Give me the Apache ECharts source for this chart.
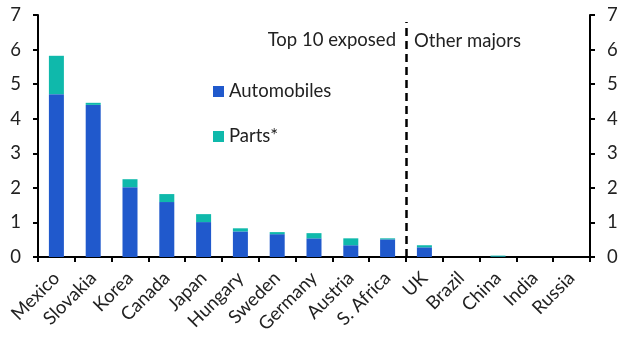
<!DOCTYPE html>
<html><head><meta charset="utf-8">
<script src="https://cdn.jsdelivr.net/npm/echarts@6/dist/echarts.min.js"></script>
<style>html,body{margin:0;padding:0;background:#fff}#c{width:630px;height:355px}</style>
</head><body><div id="c"></div>
<script>
const categories = ["Mexico","Slovakia","Korea","Canada","Japan","Hungary","Sweden","Germany","Austria","S. Africa","UK","Brazil","China","India","Russia"];
const automobiles = [4.71,4.40,2.02,1.59,1.01,0.74,0.66,0.54,0.34,0.51,0.28,0,0.01,0,0];
const parts = [1.11,0.06,0.23,0.23,0.23,0.09,0.06,0.15,0.20,0.03,0.06,0,0.03,0,0];
const yTicks = [0,1,2,3,4,5,6,7];
const dividerPosition = 10;

const font = "Lato, 'Open Sans', sans-serif";
const fs = 18.5;
const chart = echarts.init(document.getElementById('c'));
const yAxisCommon = {
  type:'value', min:yTicks[0], max:yTicks[yTicks.length-1], interval:1,
  axisLine:{show:true,lineStyle:{color:'#000',width:2}},
  axisTick:{show:true,length:5,lineStyle:{color:'#000',width:2}},
  axisLabel:{color:'#222',fontSize:fs,fontFamily:font,margin:17},
  splitLine:{show:false}
};
chart.setOption({
  animation:false,
  grid:{left:38,right:40,top:15,bottom:98},
  legend:{
    orient:'vertical', left:208, top:77, itemWidth:11, itemHeight:11, itemGap:26,
    icon:'rect', textStyle:{fontSize:fs,fontFamily:font,color:'#222',lineHeight:12},
    data:['Automobiles','Parts*']
  },
  xAxis:[{
    type:'category', data:categories,
    axisLine:{lineStyle:{color:'#000',width:2}},
    axisTick:{show:true,alignWithLabel:false,length:5,lineStyle:{color:'#000',width:2}},
    axisLabel:{rotate:45,interval:0,fontSize:fs,fontFamily:font,color:'#222',margin:18}
  },{
    type:'value', min:0, max:categories.length, show:false
  }],
  yAxis:[Object.assign({position:'left'},yAxisCommon),Object.assign({position:'right'},yAxisCommon)],
  graphic:[
    {type:'text',right:234,top:31,style:{text:'Top 10 exposed',fontSize:fs,fontFamily:font,fill:'#222'}},
    {type:'text',left:414,top:32,style:{text:'Other majors',fontSize:fs,fontFamily:font,fill:'#222'}}
  ],
  series:[
    {name:'Automobiles',type:'bar',stack:'t',data:automobiles,barWidth:15,itemStyle:{color:'#2059cc'}},
    {name:'Parts*',type:'bar',stack:'t',data:parts,barWidth:15,itemStyle:{color:'#0fb9ab'}},
    {type:'line',xAxisIndex:1,data:[],silent:true,
     markLine:{symbol:'none',silent:true,label:{show:false},
       lineStyle:{color:'#000',type:[8,5],width:2.5},
       data:[[{coord:[dividerPosition,0]},{coord:[dividerPosition,6.8]}]]}}
  ]
});
</script></body></html>
